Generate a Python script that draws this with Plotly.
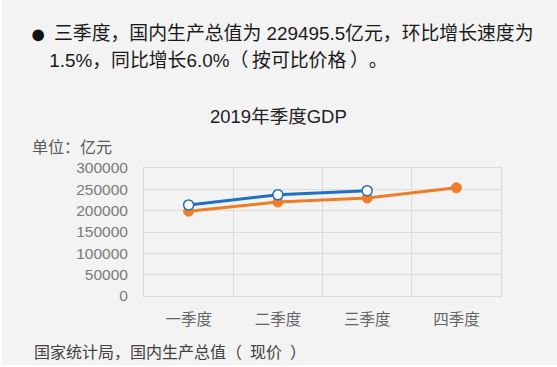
import plotly.graph_objects as go

categories = ["一季度", "二季度", "三季度", "四季度"]
gdp_2019 = [213433.1, 237499.7, 246864.9, None]
gdp_2018 = [198783.1, 220178.4, 229495.5, 253598.6]
y_ticks = [0, 50000, 100000, 150000, 200000, 250000, 300000]

W, H = 557, 367
L, R, T, B = 144, 56, 168, 71
PW, PH = W - L - R, H - T - B

def px(x):
    return (x - L) / PW

def py(y):
    return (H - B - y) / PH

FONT = "Liberation Sans, Noto Sans CJK SC, sans-serif"
BLUE = "#1f6fc5"
ORANGE = "#f07c28"

fig = go.Figure()
fig.add_trace(go.Scatter(
    x=categories, y=gdp_2018, mode="lines+markers",
    line=dict(color=ORANGE, width=3),
    marker=dict(size=10, color=ORANGE, line=dict(color=ORANGE, width=1)),
    showlegend=False, connectgaps=False,
))
fig.add_trace(go.Scatter(
    x=categories, y=gdp_2019, mode="lines+markers",
    line=dict(color=BLUE, width=3),
    marker=dict(size=10, color="white", line=dict(color=BLUE, width=1.5)),
    showlegend=False, connectgaps=False,
))

grid = "#dcdcdc"
fig.update_xaxes(
    type="category", range=[-0.5, 3.5], tickson="boundaries",
    showgrid=True, gridcolor=grid, gridwidth=1,
    showline=True, linecolor=grid, mirror=True, ticks="",
    tickfont=dict(family=FONT, size=15.5, color="#666666"),
    ticklabelstandoff=9, zeroline=False,
)
fig.update_yaxes(
    range=[0, 300000], tickvals=y_ticks, ticktext=[str(v) for v in y_ticks],
    showgrid=True, gridcolor=grid, gridwidth=1,
    showline=True, linecolor=grid, mirror=True, ticks="",
    tickfont=dict(family=FONT, size=15.5, color="#7a7a7a"),
    ticklabelstandoff=12, zeroline=False,
)

ann = []
def add(text, x, y, size, color, anchor="left"):
    ann.append(dict(text=text, x=px(x), y=py(y), xref="paper", yref="paper",
                    xanchor=anchor, yanchor="middle", showarrow=False,
                    font=dict(family=FONT, size=size, color=color)))

add("●", 38, 34, 27, "#111111", "center")
add("三季度，国内生产总值为 229495.5亿元，环比增长速度为", 52, 33, 18.85, "#1a1a1a")
add("1.5%，同比增长6.0%（\u2009按可比价格\u2009）。", 52, 60, 18.85, "#1a1a1a")
add("2019年季度GDP", 278, 116, 18.5, "#222222", "center")
add("单位：亿元", 30, 147, 16, "#595959")
add("国家统计局，国内生产总值（\u2002现价\u2002）", 32, 352, 16, "#404040")

fig.update_layout(
    width=W, height=H,
    margin=dict(l=L, r=R, t=T, b=B),
    paper_bgcolor="#f2f3f2", plot_bgcolor="#f2f3f2",
    annotations=ann,
    shapes=[
        dict(type="rect", xref="paper", yref="paper", x0=px(0), x1=px(2), y0=py(H), y1=py(0),
             fillcolor="white", line=dict(width=0), layer="below"),
        dict(type="rect", xref="paper", yref="paper", x0=px(0), x1=px(W), y0=py(H), y1=py(H - 2),
             fillcolor="white", line=dict(width=0), layer="below"),
    ],
)

fig.write_html(
    "out.html",
    config={"displayModeBar": False},
    post_script=(
        "document.body.style.margin='0';"
        "document.body.style.overflow='hidden';"
        "document.body.style.setProperty('text-spacing-trim','space-all');"
    ),
)
